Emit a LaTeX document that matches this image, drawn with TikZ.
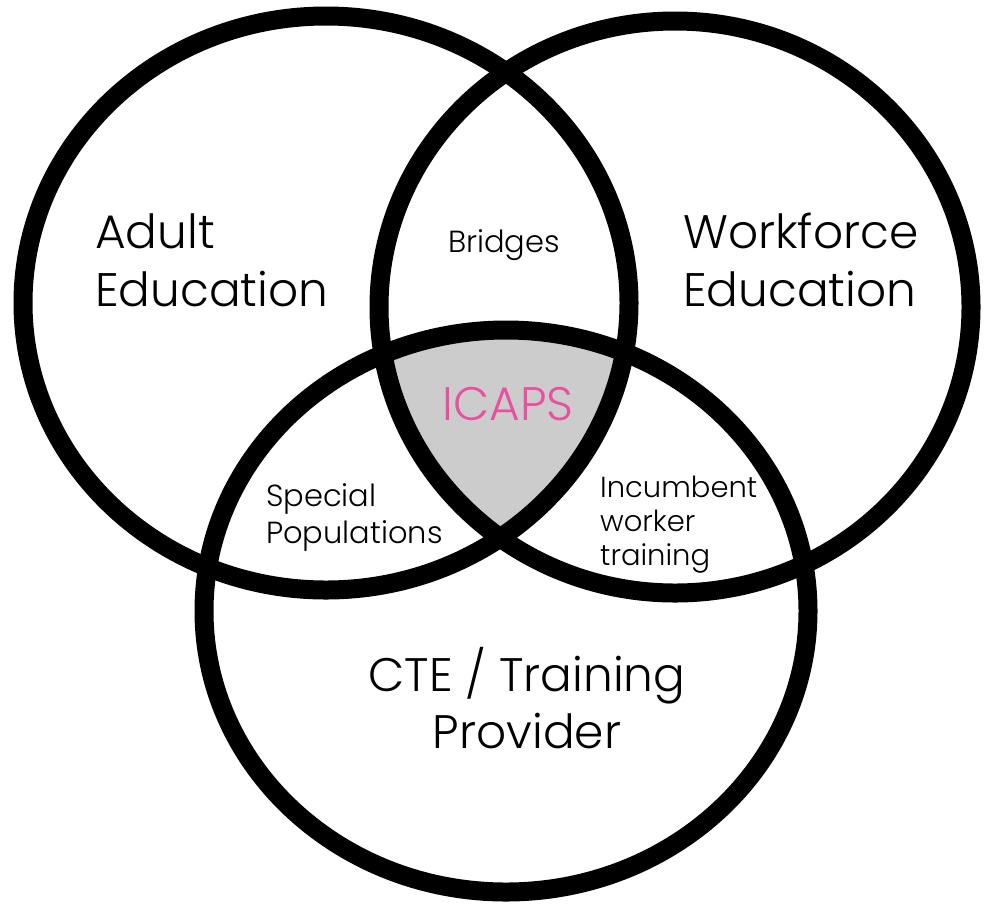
\documentclass[tikz,border=0pt]{standalone}
\usepackage{fontspec}
\setmainfont{Poppins Light}
\definecolor{icapspink}{HTML}{E8519F}
\definecolor{coregray}{HTML}{CCCCCC}
\begin{document}
\begin{tikzpicture}[x=1pt,y=-1pt,
  ring/.style={line width=19pt},
  bigtext/.style={font=\fontsize{47}{56}\selectfont, inner sep=0pt},
  midtext/.style={font=\fontsize{30.5}{36}\selectfont, inner sep=0pt},
  smalltext/.style={font=\fontsize{29}{34}\selectfont, inner sep=0pt}]
\useasboundingbox (0,0) rectangle (984,914);
\fill[white] (0,0) rectangle (984,914);
\begin{scope}
  \clip (326,303) ellipse [x radius=303pt, y radius=287pt];
  \clip (675,307) ellipse [x radius=296pt, y radius=286pt];
  \fill[coregray] (506,611) ellipse [x radius=302pt, y radius=281pt];
\end{scope}
\draw[ring] (326,303) ellipse [x radius=303pt, y radius=287pt];
\draw[ring] (675,307) ellipse [x radius=296pt, y radius=286pt];
\draw[ring] (506,611) ellipse [x radius=302pt, y radius=281pt];

\node[bigtext, anchor=base west] (adult1) at (95,248) {Adult};
\node[bigtext, anchor=base west] (adult2) at (95,306) {Education};
\node[bigtext, anchor=base west] (wf1) at (683,248) {Workforce};
\node[bigtext, anchor=base west] (wf2) at (683,306) {Education};
\node[midtext, anchor=base] (bridges) at (504,252) {Bridges};
\node[bigtext, anchor=base, text=icapspink] (icaps) at (508,420) {ICAPS};
\node[midtext, anchor=base west] (sp1) at (266,506) {Special};
\node[midtext, anchor=base west] (sp2) at (266,543) {Populations};
\node[smalltext, anchor=base west] (iw1) at (600,497) {Incumbent};
\node[smalltext, anchor=base west] (iw2) at (600,531) {worker};
\node[smalltext, anchor=base west] (iw3) at (600,565) {training};
\node[bigtext, anchor=base] (cte1) at (527,691) {CTE / Training};
\node[bigtext, anchor=base] (cte2) at (527,748) {Provider};
\end{tikzpicture}
\end{document}
